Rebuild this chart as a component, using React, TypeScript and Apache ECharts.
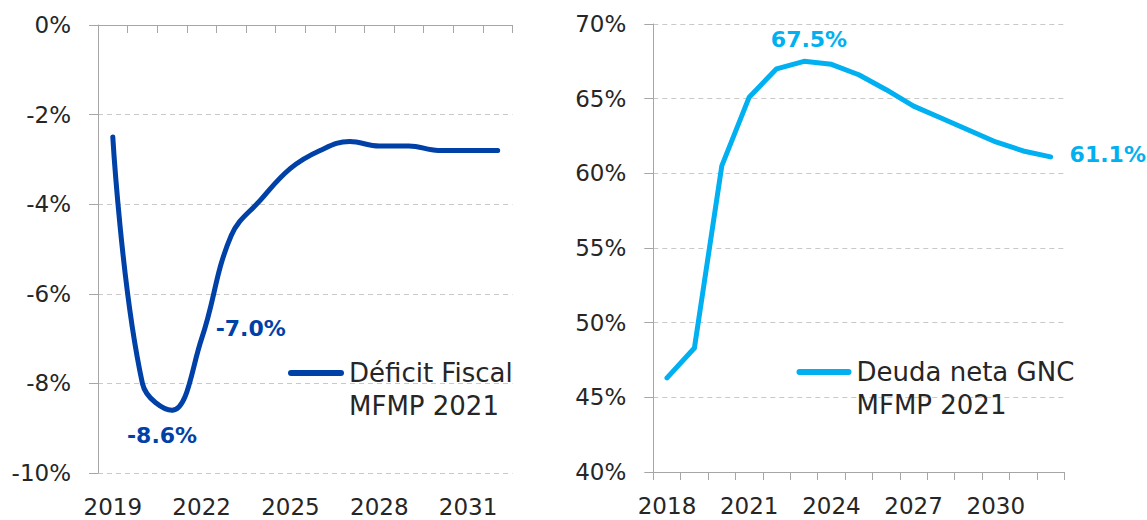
import React, { useEffect, useRef } from "react";
import * as echarts from "echarts";

const deficitYears = ["2019", "2020", "2021", "2022", "2023", "2024", "2025", "2026", "2027", "2028", "2029", "2030", "2031", "2032"];
const deficitValues = [-2.5, -8.0, -8.6, -7.0, -4.7, -3.9, -3.2, -2.8, -2.6, -2.7, -2.7, -2.8, -2.8, -2.8];
const debtYears = ["2018", "2019", "2020", "2021", "2022", "2023", "2024", "2025", "2026", "2027", "2028", "2029", "2030", "2031", "2032"];
const debtValues = [46.3, 48.3, 60.5, 65.1, 67.0, 67.5, 67.3, 66.6, 65.6, 64.5, 63.7, 62.9, 62.1, 61.5, 61.1];
const deficitName = "Déficit Fiscal\nMFMP 2021";
const debtName = "Deuda neta GNC\nMFMP 2021";
const deficitLabelIdx = [2, 3];
const debtLabelIdx = [5, 14];

const FONT = "DejaVu Sans";
const DARK = "#0041A8";
const LIGHT = "#00B0F0";
const TXT = "#262626";
const AXIS = "#A6A6A6";
const GRIDC = "#C9C9C9";
const capsule = "path://M3,0 H53 A3,3 0 0 1 53,6 H3 A3,3 0 0 1 3,0 Z";

const labelPos: Record<string, any> = {
  "d2": { position: "bottom", distance: 12, offset: [-10, 0] },
  "d3": { position: "right", distance: 12, offset: [0, -10] },
  "b5": { position: "top", distance: 9, offset: [5, 0] },
  "b14": { position: "right", distance: 17, offset: [0, -2] },
};

function buildData(values: number[], idxs: number[], key: string, color: string) {
  return values.map((v, i) => {
    if (!idxs.includes(i)) return { value: v };
    return {
      value: v,
      label: {
        show: true,
        ...labelPos[key + i],
        formatter: (p: any) => p.value.toFixed(1) + "%",
        color,
        fontFamily: FONT,
        fontWeight: "bold",
        fontSize: 22,
      },
    };
  });
}

export default function App() {
  const ref = useRef<HTMLDivElement>(null);
  useEffect(() => {
    if (!ref.current) return;
    const chart = echarts.init(ref.current, undefined, { renderer: "svg" });
    const yLabel = { color: TXT, fontFamily: FONT, fontSize: 23, margin: 27, formatter: (v: number) => v + "%" };
    const splitLine = { show: true, lineStyle: { color: GRIDC, type: [5, 4] as any, width: 1 } };
    const legendText = { color: TXT, fontFamily: FONT, fontSize: 26, lineHeight: 33 };
    const legendFmt = (name: string) => " \n" + name;
    chart.setOption({
      animation: false,
      backgroundColor: "#ffffff",
      grid: [
        { left: 98, top: 25, width: 414.5, height: 448 },
        { left: 653.3, top: 24, width: 411, height: 448 },
      ],
      legend: [
        {
          data: [{ name: deficitName, icon: capsule }],
          left: 288, top: 323.5, padding: 0, itemWidth: 56, itemHeight: 6,
          selectedMode: false, textStyle: legendText, formatter: legendFmt,
        },
        {
          data: [{ name: debtName, icon: capsule }],
          left: 796.5, top: 322.5, padding: 0, itemWidth: 55, itemHeight: 6,
          selectedMode: false, textStyle: legendText, formatter: legendFmt,
        },
      ],
      xAxis: [
        {
          gridIndex: 0, type: "category", data: deficitYears, position: "top",
          axisLine: { onZero: false, lineStyle: { color: AXIS, width: 1 } },
          axisTick: { show: true, inside: true, length: 8, interval: 0, lineStyle: { color: AXIS } },
          axisLabel: { show: false },
          splitLine: { show: false },
        },
        {
          gridIndex: 0, type: "category", data: deficitYears, position: "bottom",
          axisLine: { show: false, onZero: false },
          axisTick: { show: false },
          axisLabel: { interval: 2, color: TXT, fontFamily: FONT, fontSize: 23, margin: 22 },
          splitLine: { show: false },
        },
        {
          gridIndex: 1, type: "category", data: debtYears, position: "bottom",
          axisLine: { onZero: false, lineStyle: { color: AXIS, width: 1 } },
          axisTick: { show: true, length: 8, interval: 0, lineStyle: { color: AXIS } },
          axisLabel: { interval: 2, color: TXT, fontFamily: FONT, fontSize: 23, margin: 22 },
          splitLine: { show: false },
        },
      ],
      yAxis: [
        {
          gridIndex: 0, type: "value", min: -10, max: 0, interval: 2,
          axisLine: { show: true, lineStyle: { color: AXIS, width: 1 } },
          axisTick: { show: true, length: 9, lineStyle: { color: AXIS } },
          axisLabel: yLabel, splitLine,
        },
        {
          gridIndex: 1, type: "value", min: 40, max: 70, interval: 5,
          axisLine: { show: true, lineStyle: { color: AXIS, width: 1 } },
          axisTick: { show: true, length: 9, lineStyle: { color: AXIS } },
          axisLabel: yLabel, splitLine,
        },
      ],
      series: [
        {
          name: deficitName, type: "line", xAxisIndex: 0, yAxisIndex: 0,
          data: buildData(deficitValues, deficitLabelIdx, "d", DARK),
          smooth: 0.4, symbol: "circle", symbolSize: 4, showSymbol: true,
          itemStyle: { color: DARK, borderWidth: 0 },
          lineStyle: { color: DARK, width: 5, cap: "round", join: "round" },
        },
        {
          name: debtName, type: "line", xAxisIndex: 2, yAxisIndex: 1,
          data: buildData(debtValues, debtLabelIdx, "b", LIGHT),
          smooth: false, symbol: "circle", symbolSize: 4, showSymbol: true,
          itemStyle: { color: LIGHT, borderWidth: 0 },
          lineStyle: { color: LIGHT, width: 5, cap: "round", join: "round" },
        },
      ],
    });
    return () => chart.dispose();
  }, []);
  return <div ref={ref} style={{ position: "fixed", left: 0, top: 0, width: 1147, height: 520, background: "#fff" }} />;
}
